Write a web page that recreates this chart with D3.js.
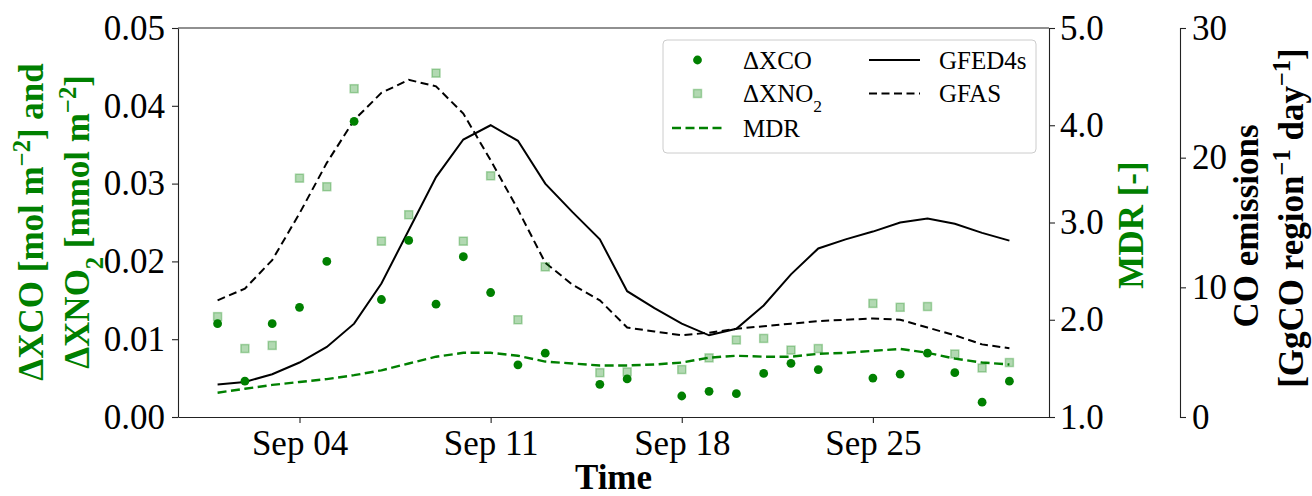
<!DOCTYPE html>
<html lang="en">
<head>
<meta charset="UTF-8" />
<title>XCO, XNO2, MDR and CO emissions</title>
<script src="https://d3js.org/d3.v7.min.js"></script>
<style>
  body { margin: 0; background: #fff; }
  svg text { font-family: 'Liberation Serif', 'Times New Roman', serif; }
</style>
</head>
<body>
<div id="chart"></div>
<script>
// daily values, September 1 .. 30 (null = no observation)
const days = d3.range(1, 31)
const xco = [0.0120, 0.0046, 0.0120, 0.0141, 0.0200, 0.0380, 0.0151, 0.0227, 0.0145, 0.0206,
  0.0160, 0.0067, 0.0082, null, 0.0042, 0.0049, null, 0.0027, 0.0033, 0.0030,
  0.0056, 0.0069, 0.0061, null, 0.0050, 0.0055, 0.0082, 0.0057, 0.0019, 0.0046]
const xno2 = [0.0129, 0.0088, 0.0092, 0.0307, 0.0296, 0.0422, 0.0226, 0.0260, 0.0442, 0.0226,
  0.0310, 0.0125, 0.0193, null, 0.0057, 0.0058, null, 0.0061, 0.0076, 0.0099,
  0.0101, 0.0086, 0.0088, null, 0.0146, 0.0141, 0.0142, 0.0081, 0.0063, 0.0070]
const mdr = [1.25, 1.29, 1.33, 1.36, 1.39, 1.43, 1.48, 1.55, 1.62, 1.66,
  1.66, 1.63, 1.57, 1.55, 1.53, 1.53, 1.54, 1.56, 1.61, 1.63,
  1.62, 1.62, 1.65, 1.66, 1.68, 1.70, 1.66, 1.60, 1.56, 1.54]
const gfed = [2.5, 2.7, 3.3, 4.2, 5.4, 7.2, 10.3, 14.4, 18.5, 21.4,
  22.5, 21.3, 18.0, 15.8, 13.7, 9.7, 8.4, 7.2, 6.3, 6.8,
  8.6, 11.0, 13.0, 13.7, 14.3, 15.0, 15.3, 14.9, 14.2, 13.6]
const gfas = [9.0, 9.9, 12.1, 15.7, 19.6, 22.9, 25.0, 26.0, 25.5, 23.4,
  19.8, 16.0, 11.9, 10.2, 9.0, 6.9, 6.6, 6.3, 6.5, 6.8,
  7.0, 7.2, 7.4, 7.5, 7.6, 7.5, 6.9, 6.3, 5.6, 5.3]

// tick labels
const xTickDays = [4, 11, 18, 25]
const leftTicks = [0, 0.01, 0.02, 0.03, 0.04, 0.05]
const mdrTicks = [1, 2, 3, 4, 5]
const coTicks = [0, 10, 20, 30]

const W = 1312, H = 496
const pL = 178, pR = 1049, pT = 28, pB = 417
const green = '#008000'
const fs = 35

const day0 = new Date(2020, 8, 1).getTime()
const toDate = d => new Date(day0 + (d - 1) * 864e5)

const svg = d3.select('#chart').append('svg')
  .attr('width', W).attr('height', H)

const x = d3.scaleTime()
  .domain([toDate(1 - 1.45), toDate(30 + 1.45)])
  .range([pL, pR])
const y = d3.scaleLinear().domain([0, 0.05]).range([pB, pT])
const yMdr = d3.scaleLinear().domain([1, 5]).range([pB, pT])
const yCo = d3.scaleLinear().domain([0, 30]).range([pB, pT])

// axes
function styleAxis(g) {
  g.selectAll('.tick text').attr('font-size', fs).attr('fill', '#000')
  g.selectAll('.tick line').attr('stroke', '#222').attr('stroke-width', 1.1)
  g.select('.domain').attr('stroke', '#222').attr('stroke-width', 1.1)
}

svg.append('g')
  .attr('transform', `translate(0, ${pB})`)
  .call(d3.axisBottom(x).tickValues(xTickDays.map(toDate))
    .tickFormat(d3.timeFormat('%b %d')).tickSizeInner(6).tickSizeOuter(0).tickPadding(7))
  .call(styleAxis)

svg.append('g')
  .attr('transform', `translate(${pL}, 0)`)
  .call(d3.axisLeft(y).tickValues(leftTicks).tickFormat(d3.format('.2f'))
    .tickSizeInner(6).tickSizeOuter(0).tickPadding(7))
  .call(styleAxis)

svg.append('g')
  .attr('transform', `translate(${pR}, 0)`)
  .call(d3.axisRight(yMdr).tickValues(mdrTicks).tickFormat(d3.format('.1f'))
    .tickSizeInner(6).tickSizeOuter(0).tickPadding(5))
  .call(styleAxis)

svg.append('g')
  .attr('transform', 'translate(1180, 0)')
  .call(d3.axisRight(yCo).tickValues(coTicks).tickFormat(d3.format('d'))
    .tickSizeInner(6).tickSizeOuter(6).tickPadding(6))
  .call(styleAxis)

// top spine
svg.append('line')
  .attr('x1', pL).attr('x2', pR).attr('y1', pT).attr('y2', pT)
  .attr('stroke', '#222').attr('stroke-width', 1.1)

// lines
const lineOf = (scale, vals) => d3.line()
  .x((d, i) => x(toDate(days[i])))
  .y(d => scale(d))(vals)

svg.append('path')
  .attr('d', lineOf(yMdr, mdr))
  .attr('fill', 'none').attr('stroke', green).attr('stroke-width', 2.4)
  .attr('stroke-dasharray', '9,4.5')

svg.append('path')
  .attr('d', lineOf(yCo, gfas))
  .attr('fill', 'none').attr('stroke', '#000').attr('stroke-width', 2)
  .attr('stroke-dasharray', '8,4.5')

svg.append('path')
  .attr('d', lineOf(yCo, gfed))
  .attr('fill', 'none').attr('stroke', '#000').attr('stroke-width', 2)

// scatter
const xno2Pts = days.map((d, i) => ({ d, v: xno2[i] })).filter(p => p.v !== null)
const xcoPts = days.map((d, i) => ({ d, v: xco[i] })).filter(p => p.v !== null)

svg.selectAll('.sq').data(xno2Pts).join('rect')
  .attr('class', 'sq')
  .attr('x', p => x(toDate(p.d)) - 4).attr('y', p => y(p.v) - 4)
  .attr('width', 8).attr('height', 8)
  .attr('fill', green).attr('fill-opacity', 0.3)
  .attr('stroke', green).attr('stroke-opacity', 0.3).attr('stroke-width', 1.5)

svg.selectAll('.dot').data(xcoPts).join('circle')
  .attr('class', 'dot')
  .attr('cx', p => x(toDate(p.d))).attr('cy', p => y(p.v))
  .attr('r', 4.4).attr('fill', green)

// legend
const lg = svg.append('g')
lg.append('rect')
  .attr('x', 663).attr('y', 40).attr('width', 373).attr('height', 113).attr('rx', 4)
  .attr('fill', '#fff').attr('fill-opacity', 0.8).attr('stroke', '#ccc')
const lfs = 25
lg.append('circle').attr('cx', 697.5).attr('cy', 60).attr('r', 4.4).attr('fill', green)
lg.append('rect').attr('x', 693.5).attr('y', 89.5).attr('width', 8).attr('height', 8)
  .attr('fill', green).attr('fill-opacity', 0.3)
  .attr('stroke', green).attr('stroke-opacity', 0.3).attr('stroke-width', 1.5)
lg.append('line').attr('x1', 672).attr('x2', 722).attr('y1', 128).attr('y2', 128)
  .attr('stroke', green).attr('stroke-width', 2.4).attr('stroke-dasharray', '9,4.5')
lg.append('line').attr('x1', 869).attr('x2', 920).attr('y1', 60).attr('y2', 60)
  .attr('stroke', '#000').attr('stroke-width', 2)
lg.append('line').attr('x1', 869).attr('x2', 920).attr('y1', 93.5).attr('y2', 93.5)
  .attr('stroke', '#000').attr('stroke-width', 2).attr('stroke-dasharray', '8,4.5')

lg.append('text').attr('x', 743).attr('y', 68.5).attr('font-size', lfs).text('ΔXCO')
const t2 = lg.append('text').attr('x', 743).attr('y', 102).attr('font-size', lfs)
t2.append('tspan').text('ΔXNO')
t2.append('tspan').attr('baseline-shift', 'sub').attr('font-size', lfs * 0.7).text('2')
lg.append('text').attr('x', 743).attr('y', 136.5).attr('font-size', lfs).text('MDR')
lg.append('text').attr('x', 939).attr('y', 68.5).attr('font-size', lfs).text('GFED4s')
lg.append('text').attr('x', 939).attr('y', 102).attr('font-size', lfs).text('GFAS')

// axis titles
svg.append('text')
  .attr('x', (pL + pR) / 2).attr('y', 489)
  .attr('text-anchor', 'middle').attr('font-size', fs).attr('font-weight', 'bold')
  .text('Time')

function vText(cx, cy, color) {
  return svg.append('text')
    .attr('transform', `translate(${cx}, ${cy}) rotate(-90)`)
    .attr('text-anchor', 'middle').attr('font-size', fs).attr('font-weight', 'bold')
    .attr('fill', color)
}
const sup = (t, s) => t.append('tspan').attr('baseline-shift', 'super').attr('font-size', fs * 0.7).text(s)

let l1 = vText(43, 222, green)
l1.append('tspan').text('ΔXCO [mol m')
sup(l1, '−2')
l1.append('tspan').text('] and')

let l2 = vText(89, 222, green)
l2.append('tspan').text('ΔXNO')
l2.append('tspan').attr('baseline-shift', 'sub').attr('font-size', fs * 0.7).text('2')
l2.append('tspan').text(' [mmol m')
sup(l2, '−2')
l2.append('tspan').text(']')

vText(1143, 225, green).text('MDR [-]')

vText(1258, 226, '#000').text('CO emissions')
let l4 = vText(1303, 218, '#000')
l4.append('tspan').text('[GgCO region')
sup(l4, '−1')
l4.append('tspan').text(' day')
sup(l4, '−1')
l4.append('tspan').text(']')
</script>
</body>
</html>
